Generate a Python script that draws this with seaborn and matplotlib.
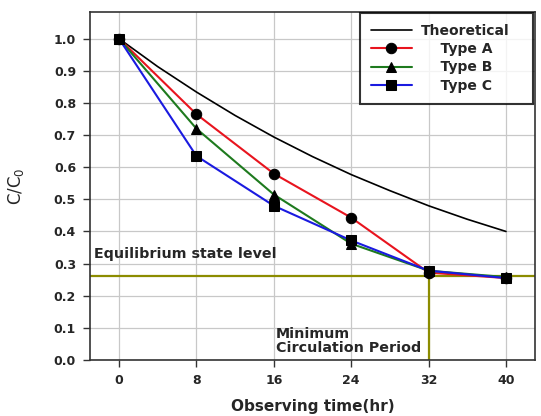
import matplotlib
matplotlib.use("Agg")
import matplotlib.pyplot as plt
import seaborn as sns
import pandas as pd

# Data
t_pts = [0, 8, 16, 24, 32, 40]
type_a = [1.0, 0.765, 0.580, 0.443, 0.272, 0.255]
type_b = [1.0, 0.720, 0.515, 0.362, 0.278, 0.258]
type_c = [1.0, 0.635, 0.480, 0.372, 0.278, 0.255]
theo_t = [0, 4, 8, 12, 16, 20, 24, 28, 32, 36, 40]
theo_v = [1.0, 0.913, 0.834, 0.761, 0.694, 0.633, 0.577, 0.527, 0.480, 0.438, 0.400]
equilibrium = 0.262
min_period = 32
x_ticks = [0, 8, 16, 24, 32, 40]
y_ticks = [0.0, 0.1, 0.2, 0.3, 0.4, 0.5, 0.6, 0.7, 0.8, 0.9, 1.0]
legend_labels = ["Theoretical", "    Type A", "    Type B", "    Type C"]

sns.set_style("white")
plt.rcParams['font.family'] = ['DejaVu Sans']

fig = plt.figure(figsize=(5.41, 4.16), dpi=100)
ax = fig.add_axes([90/541, 1-360/416, (535-90)/541, (360-12)/416])

ax.grid(True, color='#c8c8c8', lw=0.9)
ax.set_axisbelow(True)

theo = pd.DataFrame({'t': theo_t, 'v': theo_v})
sns.lineplot(data=theo, x='t', y='v', ax=ax, color='black', lw=1.2,
             label=legend_labels[0])

series = [(legend_labels[1], type_a, '#e8141e', 'o'),
          (legend_labels[2], type_b, '#1e7a1e', '^'),
          (legend_labels[3], type_c, '#1a1ae0', 's')]
for name, vals, col, mk in series:
    df = pd.DataFrame({'t': t_pts, 'v': vals})
    sns.lineplot(data=df, x='t', y='v', ax=ax, color=col, lw=1.5, marker=mk,
                 markersize=7.5, markerfacecolor='black', markeredgecolor='black',
                 label=name)

ax.axhline(equilibrium, color='#8c8c00', lw=1.6, zorder=1.5)
ax.plot([min_period, min_period], [0, equilibrium], color='#8c8c00', lw=1.6, zorder=1.5)

ax.text(-2.6, 0.318, "Equilibrium state level", fontsize=10.3, fontweight='bold',
        va='baseline', ha='left')
ax.text(16.2, 0.024, "Minimum\nCirculation Period", fontsize=10.3, fontweight='bold',
        va='baseline', ha='left', linespacing=1.0)

ax.set_xlim(-3, 43)
ax.set_ylim(0, 1.083)
ax.set_xticks(x_ticks)
ax.set_yticks(y_ticks)
ax.set_yticklabels([f"{v:.1f}" for v in y_ticks])
for lab in ax.get_xticklabels() + ax.get_yticklabels():
    lab.set_fontweight('bold')
    lab.set_fontsize(9)
ax.tick_params(axis='both', direction='out', length=5, width=1, color='#333333',
               bottom=True, left=True, pad=5)

for s in ax.spines.values():
    s.set_color('#333333')
    s.set_linewidth(1.2)

ax.set_xlabel("Observing time(hr)", fontsize=11, fontweight='bold', labelpad=9)
ax.set_ylabel("C/C$_0$", fontsize=12, labelpad=20)

leg = ax.legend(loc='upper left', bbox_to_anchor=(0.607, 0.0, 0.389, 0.997),
                mode='expand', frameon=True, fancybox=False, fontsize=10,
                borderaxespad=0.0, handlelength=2.9, labelspacing=0.3,
                borderpad=0.8, handletextpad=0.65)
leg.get_frame().set_edgecolor('black')
leg.get_frame().set_linewidth(1.5)
for txt in leg.get_texts():
    txt.set_fontweight('bold')

fig.savefig("out.png", dpi=100)
